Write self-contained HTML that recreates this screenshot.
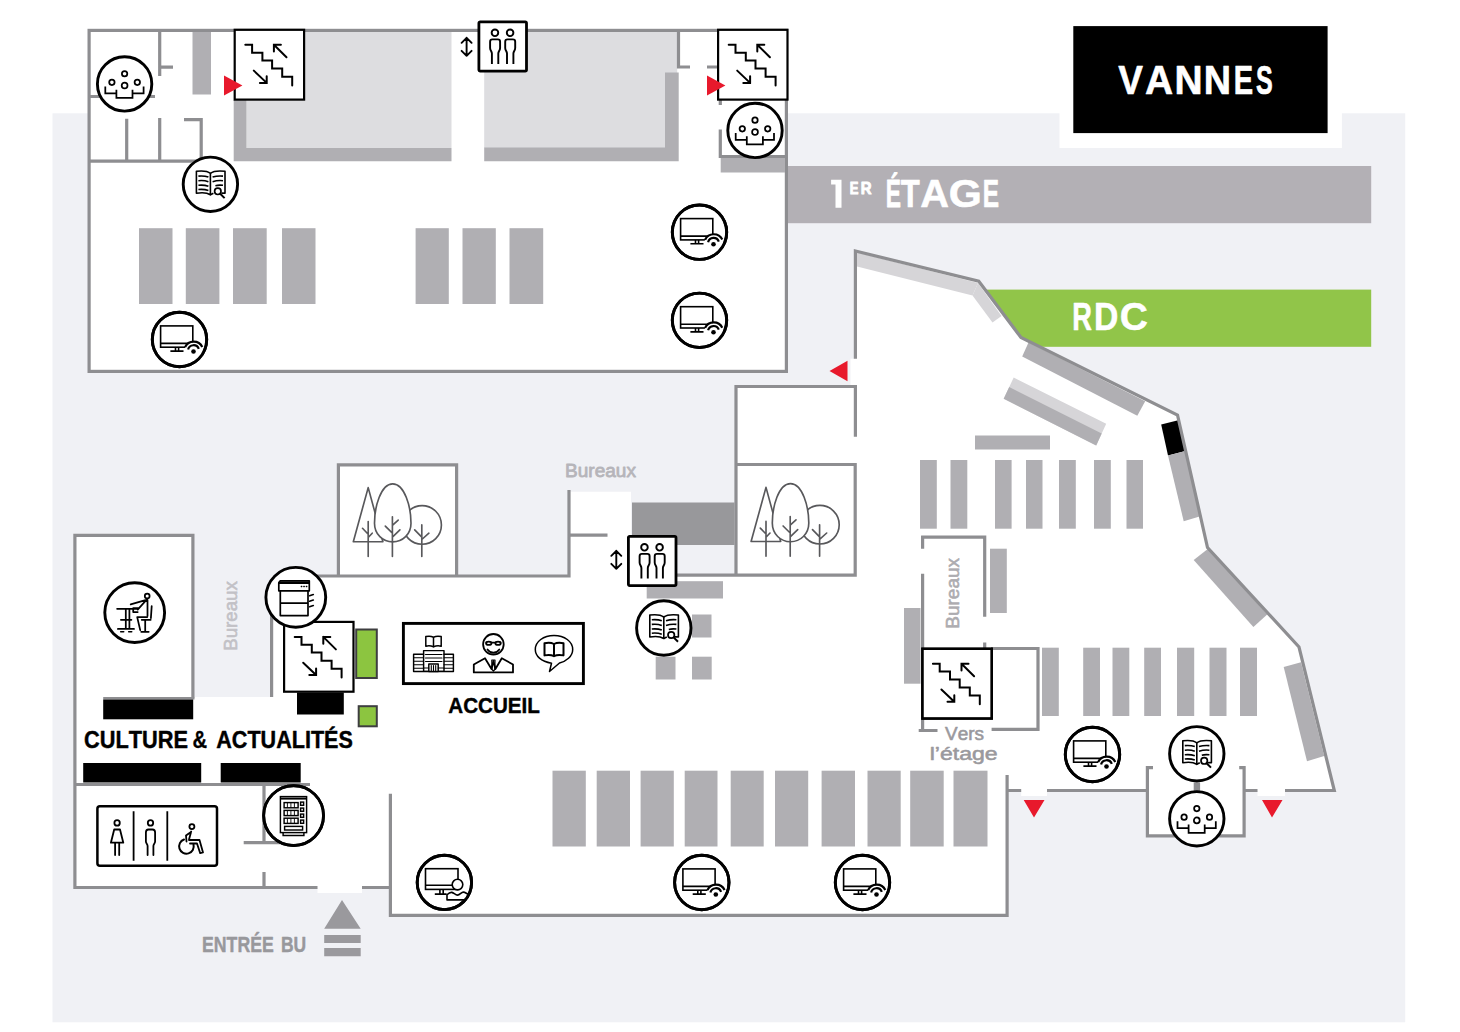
<!DOCTYPE html>
<html><head><meta charset="utf-8"><title>Plan BU Vannes</title>
<style>
html,body{margin:0;padding:0;background:#fff;}
body{width:1460px;height:1032px;overflow:hidden;font-family:"Liberation Sans",sans-serif;}
svg{display:block}
text{font-family:"Liberation Sans",sans-serif;font-kerning:none}
.w{stroke:#8e8e91;stroke-width:3.2;fill:none;stroke-linecap:butt;stroke-linejoin:miter}
.sh{fill:#b0afb3}
.lg{fill:#dddde0}
.ic{fill:none;stroke:#000;stroke-width:1.4;stroke-linecap:round;stroke-linejoin:round}
</style></head><body>
<svg width="1460" height="1032" viewBox="0 0 1460 1032">
<defs>
<g id="stair">
  <rect x="1.1" y="1.1" width="69.4" height="69.8" fill="#fff" stroke="#000" stroke-width="2.2"/>
  <path d="M11.7,16.1 H18.5 V24 H28.8 V31.8 H38.5 V39.9 H48.6 V48 H58.6 V56.7" fill="none" stroke="#000" stroke-width="2" stroke-linecap="round" stroke-linejoin="miter"/>
  <path d="M52.9,28.6 L40.3,16.1 M47.3,16.1 H40.3 V22.9" fill="none" stroke="#000" stroke-width="2" stroke-linecap="round" stroke-linejoin="miter"/>
  <path d="M20.2,41.9 L33.1,54.2 M33.1,47.6 V54.2 H26.3" fill="none" stroke="#000" stroke-width="2" stroke-linecap="round" stroke-linejoin="miter"/>
</g>
<g id="lift">
  <rect x="1.4" y="1.4" width="47.6" height="49.2" rx="1.3" fill="#fff" stroke="#000" stroke-width="2.8"/>
  <g fill="none" stroke="#000" stroke-width="1.9" stroke-linecap="butt" stroke-linejoin="round">
    <circle cx="17.45" cy="12.3" r="3.3"/>
    <path d="M14.4,43.5 V33 C14.4,31 12.6,30 12.6,27.5 V21.2 C12.6,19.6 13.4,18.9 14.9,18.9 H20.3 C21.8,18.9 22.6,19.6 22.6,21.2 V27.5 C22.6,30 20.8,31 20.8,33 V43.5"/>
    <circle cx="32.6" cy="12.3" r="3.3"/>
    <path d="M29.5,43.5 V33 C29.5,31 27.7,30 27.7,27.5 V21.2 C27.7,19.6 28.5,18.9 30,18.9 H35.4 C36.9,18.9 37.7,19.6 37.7,21.2 V27.5 C37.7,30 35.9,31 35.9,33 V43.5"/>
  </g>
</g>
<g id="updown" fill="none" stroke="#000" stroke-width="1.9" stroke-linecap="round" stroke-linejoin="round">
  <path d="M0,0 V18 M-5,5 L0,0 L5,5 M-5,13 L0,18 L5,13"/>
</g>
<g id="circ"><circle r="27.2" fill="#fff" stroke="#000" stroke-width="2.9"/></g>
<g id="circb"><circle r="29.9" fill="#fff" stroke="#000" stroke-width="2.9"/></g>
<g id="group">
  <use href="#circ"/>
  <g fill="none" stroke="#000" stroke-width="1.75" stroke-linecap="butt" stroke-linejoin="miter">
    <circle cx="0" cy="-10.2" r="2.7"/><circle cx="-12.7" cy="-1.6" r="2.7"/><circle cx="12.7" cy="-1.6" r="2.7"/><circle cx="0" cy="1.6" r="2.9"/>
    <path d="M-19.3,2.5 V9.4 H-8.2 M-8.2,5.8 V14 H7.9 V5.8 M7.9,9.4 H19 V2.5"/>
  </g>
</g>
<g id="book">
  <use href="#circ"/>
  <g fill="none" stroke="#000" stroke-width="1.6" stroke-linecap="butt" stroke-linejoin="round">
    <path d="M0,-11 C-3,-13.3 -9,-13.6 -14,-13 V9 C-9,8.2 -3,8.6 0,10.5 Z"/>
    <path d="M0,-11 C3,-13.3 9,-13.6 14.6,-13 V9 C13,8.8 12,8.8 11,8.9 M3,9 C2,9.5 1,10 0,10.5"/>
    <path d="M-12,-8.2 C-8,-8.6 -5,-8.3 -2,-7.2 M-12,-3.6 C-8,-4 -5,-3.7 -2,-2.6 M-12,1 C-8,0.6 -5,0.9 -2,2 M-12,5.2 C-8,4.8 -5,5.1 -2,6.2"/>
    <path d="M12.6,-8.2 C8.6,-8.6 5.6,-8.3 2.2,-7.2 M12.6,-3.6 C8.6,-4 5.6,-3.7 2.2,-2.6 M12.6,1 C9.6,0.7 7,0.8 5,1.4"/>
    <circle cx="7.4" cy="7" r="3.2" fill="#fff" stroke-width="1.7"/>
    <path d="M9.8,9.4 L14.2,13.8" stroke-width="2"/>
  </g>
</g>
<g id="pcmon" fill="none" stroke="#000" stroke-width="1.6" stroke-linejoin="miter" stroke-linecap="butt">
  <rect x="-18.9" y="-13.6" width="32.2" height="21.3"/>
  <path d="M-18.9,3.9 H13.3 M-4,7.7 V11.6 M-0.9,7.7 V11.6 M-9.1,11.6 H4"/>
</g>
<g id="pc">
  <use href="#circ"/>
  <use href="#pcmon"/>
  <circle cx="14.1" cy="12.1" r="9.5" fill="#fff"/>
  <path d="M5.6,7.6 A9.5,9.5 0 0 1 22.8,7.4" fill="none" stroke="#000" stroke-width="2.2"/>
  <path d="M8.6,10 A5.6,5.6 0 0 1 19.3,9.4" fill="none" stroke="#000" stroke-width="2.2"/>
  <circle cx="14" cy="12" r="2.3" fill="#000"/>
  <circle r="27.2" fill="none" stroke="#000" stroke-width="2.9"/>
</g>
<g id="trees" fill="none" stroke="#58585b" stroke-width="1.65" stroke-linecap="round" stroke-linejoin="round">
  <path d="M31.5,24.4 L16.6,78.5 H46.2 Z" fill="#fff"/>
  <circle cx="85.4" cy="61.7" r="19.3" fill="#fff"/>
  <path d="M56,20.6 C68,20.6 74.3,44 74.3,60 C74.3,71 66,78.7 56,78.7 C46,78.7 37.8,71 37.8,60 C37.8,44 44,20.6 56,20.6 Z" fill="#fff"/>
  <path d="M31.5,58.4 V93.2 M25.8,65.1 L31.5,71 M35.5,70 L31.5,74.3"/>
  <path d="M55.7,53.5 V93.2 M61.5,56.9 L55.7,62.2 M48.6,63 L55.7,70 M63.2,66.6 L55.7,73.9"/>
  <path d="M85.1,61.7 V93.2 M78,66.6 L85.1,73.9 M92.2,70 L85.1,76.3"/>
</g>
</defs>
<!-- background panel -->
<rect x="0" y="0" width="1460" height="1032" fill="#fff"/>
<rect x="52.5" y="113.3" width="1352.7" height="909" fill="#f0f1f5"/>
<!-- VANNES -->
<rect x="1059.5" y="100" width="282.4" height="48" fill="#fff"/>
<rect x="1073.3" y="26.1" width="254.3" height="107" fill="#000"/>
<text transform="translate(1118.25,93.50) scale(0.3704,0.4070)" font-size="100" font-weight="bold" fill="#fff" stroke="#fff" stroke-width="1.54" stroke-linejoin="round">V</text>
<text transform="translate(1144.93,93.50) scale(0.3890,0.4070)" font-size="100" font-weight="bold" fill="#fff" stroke="#fff" stroke-width="1.51" stroke-linejoin="round">A</text>
<text transform="translate(1174.49,93.50) scale(0.3895,0.4070)" font-size="100" font-weight="bold" fill="#fff" stroke="#fff" stroke-width="1.51" stroke-linejoin="round">N</text>
<text transform="translate(1203.87,93.50) scale(0.3776,0.4070)" font-size="100" font-weight="bold" fill="#fff" stroke="#fff" stroke-width="1.53" stroke-linejoin="round">N</text>
<text transform="translate(1233.76,93.50) scale(0.2905,0.4070)" font-size="100" font-weight="bold" fill="#fff" stroke="#fff" stroke-width="1.72" stroke-linejoin="round">E</text>
<text transform="translate(1255.88,93.50) scale(0.2504,0.4070)" font-size="100" font-weight="bold" fill="#fff" stroke="#fff" stroke-width="1.83" stroke-linejoin="round">S</text>
<!-- banners -->
<rect x="788" y="166" width="583.2" height="57.2" fill="#b3b0b5"/>
<path d="M831.1,179.8 H841.5 V207.7 H835.5 V184.6 H831.1 Z" fill="#fff"/>
<text transform="translate(849.78,194.25) scale(0.1301,0.1715)" font-size="100" font-weight="bold" fill="#fff" stroke="#fff" stroke-width="5.97" stroke-linejoin="round">E</text>
<text transform="translate(860.85,194.25) scale(0.1497,0.1715)" font-size="100" font-weight="bold" fill="#fff" stroke="#fff" stroke-width="5.60" stroke-linejoin="round">R</text>
<text transform="translate(885.77,207.40) scale(0.2281,0.3968)" font-size="100" font-weight="bold" fill="#fff" stroke="#fff" stroke-width="1.92" stroke-linejoin="round">É</text>
<text transform="translate(900.65,207.40) scale(0.3108,0.3968)" font-size="100" font-weight="bold" fill="#fff" stroke="#fff" stroke-width="1.70" stroke-linejoin="round">T</text>
<text transform="translate(920.21,207.40) scale(0.3980,0.3968)" font-size="100" font-weight="bold" fill="#fff" stroke="#fff" stroke-width="1.51" stroke-linejoin="round">A</text>
<text transform="translate(948.66,207.40) scale(0.4253,0.3968)" font-size="100" font-weight="bold" fill="#fff" stroke="#fff" stroke-width="1.46" stroke-linejoin="round">G</text>
<text transform="translate(982.67,207.40) scale(0.2442,0.3968)" font-size="100" font-weight="bold" fill="#fff" stroke="#fff" stroke-width="1.87" stroke-linejoin="round">E</text>
<rect x="985" y="289.6" width="386.2" height="57.2" fill="#91c549"/>
<text transform="translate(1072.13,329.75) scale(0.2725,0.3954)" font-size="100" font-weight="bold" fill="#fff" stroke="#fff" stroke-width="1.50" stroke-linejoin="round">R</text>
<text transform="translate(1093.99,329.75) scale(0.3375,0.3954)" font-size="100" font-weight="bold" fill="#fff" stroke="#fff" stroke-width="1.36" stroke-linejoin="round">D</text>
<text transform="translate(1119.65,329.75) scale(0.3900,0.3954)" font-size="100" font-weight="bold" fill="#fff" stroke="#fff" stroke-width="1.27" stroke-linejoin="round">C</text>

<!-- ================= 1ER ETAGE ================= -->
<rect x="89.1" y="30.4" width="697.3" height="341" fill="#fff" stroke="#8e8e91" stroke-width="3.2"/>
<!-- grey zones -->
<rect x="246.5" y="32" width="205" height="116" class="lg"/>
<path d="M233.7,100 H246.5 V148 H451.5 V161.2 H233.7 Z" class="sh"/>
<rect x="484.2" y="32" width="193" height="116" class="lg"/>
<path d="M665,72.5 H678.7 V161.2 H484.2 V147.6 H665 Z" class="sh"/>
<rect x="192.5" y="32" width="18.5" height="62.5" class="sh"/>
<rect x="720.7" y="158" width="64.3" height="14.5" class="sh"/>
<!-- inner walls -->
<path class="w" d="M159.7,32 V76 M158.1,67.2 H173 M90,96.5 H155 M126.7,118.7 V161 M159.7,118 V161 M184,119.7 H202.8 M201.2,118.1 V161 M90,161.2 H203"/>
<path class="w" d="M678.5,32 V68.6 M676.9,67 H690 M707,67 H717.5 M720.3,100 V105 M720.3,129.5 V158 M718.7,156.5 H785"/>
<!-- shelves -->
<g class="sh">
<rect x="139" y="228.2" width="33.5" height="75.8"/><rect x="185.8" y="228.2" width="33.6" height="75.8"/><rect x="233" y="228.2" width="33.7" height="75.8"/><rect x="282" y="228.2" width="33.5" height="75.8"/>
<rect x="415.6" y="228.2" width="33.2" height="75.8"/><rect x="462.5" y="228.2" width="33.3" height="75.8"/><rect x="509.5" y="228.2" width="33.7" height="75.8"/>
</g>
<!-- icons 1er -->
<use href="#stair" x="233.6" y="28.7"/>
<use href="#stair" x="717" y="28.7"/>
<path d="M224,75.5 L242.4,85.5 L224,95.5 Z" fill="#e8192c"/>
<path d="M707,75.5 L725.4,85.5 L707,95.5 Z" fill="#e8192c"/>
<use href="#lift" x="477.5" y="20.5"/>
<use href="#updown" x="466.6" y="37.8"/>
<use href="#group" x="124.6" y="83.9"/>
<use href="#group" x="755" y="130.4"/>
<use href="#book" x="210.4" y="184.3"/>
<use href="#pc" x="699.5" y="232.2"/>
<use href="#pc" x="699.5" y="320.3"/>
<use href="#pc" x="179.5" y="339.5"/>
<!-- ================= RDC ================= -->
<path fill="#fff" d="M855.4,251 L978.75,281.25 L1021,337.5 L1177.5,415 L1207.5,547.5 L1299,647 L1334.3,790.5 L1007,790.5 L1007,915.5 L390.4,915.5 L390.4,887.5 L75,887.5 L75,535.4 L193,535.4 L193,697 L271.6,697 L271.6,576 L338.4,576 L338.4,465 L456.6,465 L456.6,576 L569,576 L569,491.75 L631,491.75 L631,576 L736,576 L736,386.5 L855.4,386.5 Z"/>
<rect x="1147.4" y="788" width="96.7" height="48" fill="#fff"/>
<rect x="1021.2" y="787" width="25.8" height="9" fill="#fff"/>
<rect x="850.5" y="358.7" width="6.5" height="26.3" fill="#fff"/>
<rect x="1257.5" y="787" width="27.5" height="9" fill="#fff"/>
<rect x="317.5" y="884" width="44.5" height="9" fill="#fff"/>
<rect x="632" y="502.5" width="102.5" height="42.5" fill="#98989b"/>
<!-- diagonal strips -->
<path fill="#d6d5d8" d="M857,252.5 L978,283 L972.5,295.5 L857,266.5 Z"/>
<path fill="#d6d5d8" d="M978,283 L1001.5,316 L992.5,322.5 L972.5,295.5 Z"/>
<path class="sh" d="M1028.5,342.5 L1145.2,401.3 L1137.3,415.8 L1022.2,356.6 Z"/>
<path fill="#d6d5d8" d="M1013.7,377.5 L1106.2,423.7 L1096.2,445.5 L1003.7,398.7 Z"/>
<path class="sh" d="M1009.2,387 L1101.7,433.5 L1096.2,445.5 L1003.7,398.7 Z"/>
<path fill="#000" d="M1161.2,424.5 L1178.2,420.2 L1185.4,451.0 L1168.0,455.5 Z"/>
<path class="sh" d="M1168.0,455.5 L1185.4,451.0 L1201.2,516.0 L1183.7,521.2 Z"/>
<path class="sh" d="M1193.7,560 L1208.4,548.6 L1267.2,614.4 L1253.4,626.9 Z"/>
<path class="sh" d="M1283.7,667 L1301,662.2 L1324.2,755.9 L1307,761.2 Z"/>
<!-- shelves -->
<g class="sh">
<rect x="975" y="435.5" width="75" height="14"/>
<rect x="920" y="460" width="16.8" height="68.7"/><rect x="950.5" y="460" width="16.8" height="68.7"/><rect x="995" y="460" width="16.6" height="68.7"/><rect x="1026" y="460" width="16.5" height="68.7"/><rect x="1059" y="460" width="16.8" height="68.7"/><rect x="1094" y="460" width="16.8" height="68.7"/><rect x="1126.5" y="460" width="16.5" height="68.7"/>
<rect x="990" y="548.7" width="16.8" height="64.3"/>
<rect x="904" y="608" width="16.5" height="75.7"/>
<rect x="1042" y="647.7" width="16.8" height="68.3"/><rect x="1083.2" y="647.7" width="16.8" height="68.3"/><rect x="1112.5" y="647.7" width="16.8" height="68.3"/><rect x="1144.2" y="647.7" width="16.8" height="68.3"/><rect x="1177" y="647.7" width="17.2" height="68.3"/><rect x="1209.5" y="647.7" width="17" height="68.3"/><rect x="1240" y="647.7" width="17" height="68.3"/>
<rect x="552.5" y="770.7" width="33.3" height="75.8"/><rect x="596.7" y="770.7" width="33.3" height="75.8"/><rect x="640.6" y="770.7" width="33.2" height="75.8"/><rect x="684.7" y="770.7" width="32.8" height="75.8"/><rect x="730.7" y="770.7" width="33" height="75.8"/><rect x="775" y="770.7" width="33.2" height="75.8"/><rect x="821.6" y="770.7" width="33.4" height="75.8"/><rect x="867.5" y="770.7" width="33.2" height="75.8"/><rect x="910.2" y="770.7" width="33.5" height="75.8"/><rect x="953.5" y="770.7" width="34" height="75.8"/>
<rect x="646.7" y="581.2" width="76.3" height="17.3"/>
<rect x="692" y="614.5" width="19.5" height="23"/><rect x="655.7" y="656.7" width="19.8" height="22.8"/><rect x="692" y="656.7" width="19.7" height="22.8"/>
</g>
<!-- walls RDC -->
<path class="w" d="M855.4,358.7 V251 L978.75,281.25 L1021,337.5 L1177.5,415 L1207.5,547.5 L1299,647 L1334.3,790.5 H1285 M1257.5,790.5 H1244 M1244.1,766.2 V835.9 H1147.4 V766.2 M1239.2,767.6 H1245.7 M1145.8,767.6 H1153 M1149,790.5 H1047 M1021.2,790.5 H1005.5 M1007.1,775 V915.4 H390.4 V793.7"/>
<path class="w" d="M855.4,385 V436.7 M857,386.5 H734.5 M736,385 V576.7 M736,464.5 H856.7 M855.2,463 V576.7 M677,575.2 H856.7"/>
<path class="w" d="M285,576 H570.5 M271.6,605 V697 M338.4,576 V464.9 H456.6 V576 M569,490 V577.5 M570.5,535.2 H607.5"/>
<path class="w" d="M74.9,889.1 V535.4 H192.9 V697.5 M73.3,784.5 H310 M73.3,887.5 H317.5 M362,887.5 H392 M264,786 V843.7 M243.7,842.7 H280 M264,872 V887.5"/>
<path class="w" d="M921.2,537.2 H986.3 M922.6,535.7 V548.7 M922.6,573.7 V648.7 M984.7,535.7 V616.7 M984.7,642.5 V648 M922.6,719 V732 M918.7,730.5 H937.5 M991,648.5 H1039.5 M1038,647 V730.8 M991.6,729.3 H1039.5"/>
<rect x="1193.7" y="782.5" width="6.4" height="9" fill="#8e8e91"/>
<path d="M103.2,698.3 H194.5" stroke="#8e8e91" stroke-width="2.6" fill="none"/>
<!-- black / green -->
<rect x="103.2" y="699.5" width="90" height="19.8" fill="#000"/>
<rect x="297" y="692.5" width="46.8" height="22" fill="#000"/>
<rect x="83.2" y="763" width="118" height="19.5" fill="#000"/>
<rect x="220.7" y="763" width="80" height="19.5" fill="#000"/>
<rect x="356.2" y="629.5" width="20.6" height="48.5" fill="#8cc540" stroke="#3e3e40" stroke-width="2"/>
<rect x="358.7" y="706.2" width="18.1" height="20.1" fill="#8cc540" stroke="#3e3e40" stroke-width="2"/>
<!-- entrance arrow -->
<path fill="#9a999d" d="M342,900 L360.7,928.7 H324.2 Z M324.2,935 H360.7 V943 H324.2 Z M324.2,948 H360.7 V956.2 H324.2 Z"/>
<!-- red triangles -->
<path fill="#e8192c" d="M847.5,360.7 L829.5,371 L847.5,381.2 Z M1023.7,800 H1044.5 L1034,817.5 Z M1262,800 H1282.5 L1272,817.5 Z"/>
<!-- tree boxes -->
<use href="#trees" x="336.7" y="463.2"/>
<use href="#trees" x="734.5" y="463"/>
<!-- icons RDC -->
<use href="#stair" x="283" y="620.8"/>
<g transform="translate(921.2,647.6)">
  <use href="#stair"/>
  <rect x="1.2" y="1.2" width="69.4" height="69.8" fill="none" stroke="#000" stroke-width="2.4"/>
</g>
<use href="#lift" x="627" y="535"/>
<use href="#updown" x="616.3" y="550.8"/>
<use href="#book" x="663.8" y="628"/>
<use href="#book" x="1196.8" y="753.8"/>
<use href="#group" x="1196.8" y="818.8"/>
<use href="#pc" x="1092.5" y="754.5"/>
<use href="#pc" x="701.8" y="882.5"/>
<use href="#pc" x="862.5" y="882.5"/>
<!-- pc + user -->
<g transform="translate(444.4,882.4)">
  <use href="#circ"/>
  <g fill="none" stroke="#000" stroke-width="1.6" stroke-linejoin="miter">
    <rect x="-18.9" y="-13.7" width="32.5" height="20.7"/>
    <path d="M-18.9,2.8 H13.6 M-4.5,7 V11.7 M-1.2,7 V11.7 M-9.6,11.7 H2.2"/>
  </g>
  <path d="M2.6,17.5 V12.4 C4.5,10.5 6,9.8 7.5,10 C9.5,10.5 11,12.7 13.1,12.7 C15.5,12.7 17,9.7 18.8,9.7 C20.5,9.7 22,11 24,12 L21.5,17.5 Z" fill="#fff" stroke="#000" stroke-width="1.6" stroke-linejoin="round"/>
  <circle cx="13.1" cy="2.2" r="5.3" fill="#fff" stroke="#000" stroke-width="1.6"/>
  <circle r="27.2" fill="none" stroke="#000" stroke-width="2.9"/>
</g>
<!-- copier -->
<g transform="translate(295.8,597.3)">
  <use href="#circb"/>
  <g fill="none" stroke="#000" stroke-width="1.7" stroke-linejoin="round" stroke-linecap="round">
    <path d="M-17,-6.5 V-14.5 L-15.5,-16.5 H13.5 V-6.5 Z"/>
    <path d="M-17,-14.6 H13.5" stroke-width="2.6" stroke-linecap="butt"/>
    <path d="M-15.5,-6.5 V18.3 H12.2 V-6.5 M-15.5,5.8 H12.2"/>
    <path d="M13.8,-1.5 L17.5,-2.8 M13.8,4 L17.5,2.7 M13.8,9.5 L17.5,8.2" stroke-width="1.6"/>
    <path d="M5.5,-10.8 H6 M8,-10.8 H8.5 M10.5,-10.8 H11" stroke-width="1.3"/>
  </g>
</g>
<!-- desk -->
<g transform="translate(134.7,612.6)">
  <use href="#circb"/>
  <g fill="none" stroke="#000" stroke-width="1.75" stroke-linejoin="round" stroke-linecap="round">
    <path d="M-17.6,-3.8 H2.1 M-8.9,-3.8 V16.4 M-5.3,-3.8 V16.4 M-13.8,7.2 H-3.3 M-16.8,16.4 H-0.7"/>
    <path d="M-14,19.2 H-11 M-6,19.2 H-3" stroke-width="1.6"/>
    <circle cx="12.5" cy="-16.6" r="2.4"/>
    <path d="M12.5,-13 L-4,-8.2 M12.8,-12.8 V3.5 M12,-13 L3,-3 M3,-0.5 H-1.5 V-4.5 H4"/>
    <path d="M12.5,4.5 H2.5 L5.5,17.5 M17,-6.5 L16.2,5.5 M7,7.2 H16 M10.5,7.2 V18.5 M6.5,19.2 H14"/>
  </g>
</g>
<!-- vending -->
<g transform="translate(293.6,815.6)">
  <use href="#circb"/>
  <g fill="none" stroke="#000" stroke-width="1.45" stroke-linejoin="miter">
    <rect x="-13.2" y="-19" width="26.2" height="36"/>
    <path d="M-13.2,-17 H13" stroke-width="2"/>
    <rect x="-9.5" y="-13" width="14" height="5.2"/><rect x="-9.5" y="-5.2" width="14" height="5.2"/><rect x="-9.5" y="2.6" width="14" height="5.2"/>
    <path d="M-6.2,-13 V-7.8 M-2.7,-13 V-7.8 M0.8,-13 V-7.8 M-6.2,-5.2 V0 M-2.7,-5.2 V0 M0.8,-5.2 V0 M-6.2,2.6 V7.8 M-2.7,2.6 V7.8 M0.8,2.6 V7.8" stroke-width="0.9"/>
    <rect x="7" y="-13.5" width="3" height="3.2"/><rect x="7" y="-7.5" width="3" height="3.2"/><rect x="7" y="-1.5" width="3" height="3.2"/><rect x="7" y="4.5" width="3" height="3.2"/>
    <rect x="-9" y="10.8" width="18" height="3.6"/>
    <path d="M-10.5,17 V20 H10.3 V17"/>
  </g>
  <circle r="30" fill="none" stroke="#000" stroke-width="2.7"/>
</g>
<!-- WC -->
<g>
  <rect x="97.4" y="806.2" width="119.6" height="59.6" rx="2.5" fill="#fff" stroke="#000" stroke-width="2.5"/>
  <path d="M133.6,811.2 V860.8 M167.3,811.2 V860.8" stroke="#000" stroke-width="1.8" fill="none"/>
  <g fill="none" stroke="#000" stroke-width="1.8" stroke-linejoin="round" stroke-linecap="round">
    <circle cx="117.1" cy="822.9" r="2.7"/>
    <path d="M114.2,829.5 H120 L123.3,842.7 H110.9 Z M115.1,842.7 V855 M119.2,842.7 V855"/>
    <circle cx="150.5" cy="822.9" r="2.7"/>
    <path d="M147.6,855 V846 C147.6,844 145.9,843.5 145.9,841.5 V832.5 C145.9,830.5 147,829.5 148.5,829.5 H152.5 C154,829.5 155.1,830.5 155.1,832.5 V841.5 C155.1,843.5 153.4,844 153.4,846 V855"/>
    <circle cx="191.9" cy="826.6" r="2.5"/>
    <path d="M191.2,831.5 L189,839.5 M191,832 L186,835.5 L186.5,841.5 M189,840 H199.5 L203,852.5 L200.2,853.2 L197,843.5 H190" />
    <path d="M193.5,844.5 A7.3,7.3 0 1 1 184,839.5" stroke-width="2"/>
  </g>
</g>
<!-- ACCUEIL -->
<g>
  <rect x="403.4" y="623.4" width="180" height="60.2" fill="#fff" stroke="#000" stroke-width="2.9"/>
  <g fill="none" stroke="#000" stroke-width="1.45" stroke-linejoin="round" stroke-linecap="round">
    <!-- building -->
    <path d="M433.5,637.2 C431,636 428.5,636 425.8,636.6 V646.2 C428.5,645.4 431,645.6 433.5,646.9 C436,645.6 438.5,645.4 441.2,646.2 V636.6 C438.5,636 436,636 433.5,637.2 Z M433.5,637.2 V646.9" stroke-width="1.5"/>
    <rect x="423.6" y="650.6" width="20.4" height="20.8"/>
    <path d="M423.6,654.2 H413.6 V671.4 H453.4 V654.2 H444"/>
    <path d="M425.5,654.5 H442 M425.5,658 H442 M425.5,661.5 H442 M413.6,657.7 H423.6 M413.6,661.2 H423.6 M413.6,664.7 H423.6 M413.6,668.2 H423.6 M444,657.7 H453.4 M444,661.2 H453.4 M444,664.7 H453.4 M444,668.2 H453.4" stroke-width="1.1"/>
    <rect x="428.8" y="664" width="9.4" height="7.4" fill="#fff"/>
    <path d="M431.3,665.5 V670.5 M433.5,665.5 V670.5 M435.7,665.5 V670.5 M423.6,668 H428.8 M438.2,668 H444" stroke-width="1.1"/>
    <!-- person -->
    <circle cx="493.4" cy="644.3" r="10.3" stroke-width="1.8"/>
    <path d="M486,643 C486,641.2 491.5,641.2 491.5,643 C491.5,645.6 486,645.6 486,643 Z M495.3,643 C495.3,641.2 500.8,641.2 500.8,643 C500.8,645.6 495.3,645.6 495.3,643 Z M491.5,642.6 H495.3" stroke-width="1.8"/>
    <path d="M487.5,649.5 C490.5,653.8 496.3,653.8 499.3,649.5" stroke-width="1.8"/>
    <path d="M473.8,672.4 V664.5 L485,658.3 L491.5,669 L493.4,661 M513,672.4 V664.5 L501.8,658.3 L495.4,669 L493.4,661 M473.8,672.4 H513" stroke-width="1.8"/>
    <path d="M491.8,660 H495 L494.8,669.5 L493.4,671 L492,669.5 Z" stroke-width="1.2"/>
    <!-- bubble -->
    <path d="M549.5,671.5 L551.5,663.2 C541,661.5 535.3,656 535.3,649.5 C535.3,641.5 543.5,635.5 554,635.5 C564.5,635.5 572.7,641.5 572.7,649.5 C572.7,656.5 566,661.5 559.5,663 Z" stroke-width="1.5"/>
    <path d="M554,644 C551.5,642.6 548,642.4 544.5,643.2 V655.4 C548,654.6 551.5,654.8 554,656.2 C556.5,654.8 560,654.6 563.5,655.4 V643.2 C560,642.4 556.5,642.6 554,644 Z M554,644 V656.2" stroke-width="2"/>
  </g>
</g>
<!-- texts -->
<text transform="translate(448.29,712.50) scale(0.2060,0.2151)" font-size="100" font-weight="bold" fill="#000" stroke="#000" stroke-width="1.90" stroke-linejoin="round">ACCUEIL</text>
<text transform="translate(84.11,748.40) scale(0.2176,0.2355)" font-size="100" font-weight="bold" fill="#000" stroke="#000" stroke-width="1.77" stroke-linejoin="round">CULTURE</text>
<text transform="translate(192.46,748.45) scale(0.2025,0.2369)" font-size="100" font-weight="bold" fill="#000" stroke="#000" stroke-width="1.37" stroke-linejoin="round">&amp;</text>
<text transform="translate(216.26,748.40) scale(0.2158,0.2355)" font-size="100" font-weight="bold" fill="#000" stroke="#000" stroke-width="1.77" stroke-linejoin="round">ACTUALITÉS</text>
<text transform="translate(202.02,951.70) scale(0.1770,0.2151)" font-size="100" font-weight="bold" fill="#98989c" stroke="#98989c" stroke-width="2.04" stroke-linejoin="round">ENTRÉE</text>
<text transform="translate(280.93,951.70) scale(0.1747,0.2151)" font-size="100" font-weight="bold" fill="#98989c" stroke="#98989c" stroke-width="2.05" stroke-linejoin="round">BU</text>
<text transform="translate(565.04,476.60) scale(0.1905,0.1788)" font-size="100" font-weight="normal" fill="#b6b5ba" stroke="#b6b5ba" stroke-width="4.33" stroke-linejoin="round">Bureaux</text>
<text transform="translate(237.3,649.6) rotate(-90) translate(-1.24,-0.30) scale(0.1872,0.1875)" font-size="100" font-weight="normal" fill="#c2c1c6" stroke="#c2c1c6" stroke-width="3.20" stroke-linejoin="round">Bureaux</text>
<text transform="translate(959,627.4) rotate(-90) translate(-1.26,-0.30) scale(0.1897,0.1846)" font-size="100" font-weight="normal" fill="#adacb0" stroke="#adacb0" stroke-width="3.21" stroke-linejoin="round">Bureaux</text>
<text transform="translate(945.02,739.70) scale(0.1895,0.1802)" font-size="100" font-weight="normal" fill="#9a999d" stroke="#9a999d" stroke-width="3.25" stroke-linejoin="round">Vers</text>
<text transform="translate(929.75,760.00) scale(0.2307,0.1802)" font-size="100" font-weight="normal" fill="#9a999d" stroke="#9a999d" stroke-width="2.92" stroke-linejoin="round">l’étage</text>
</svg>
</body></html>
